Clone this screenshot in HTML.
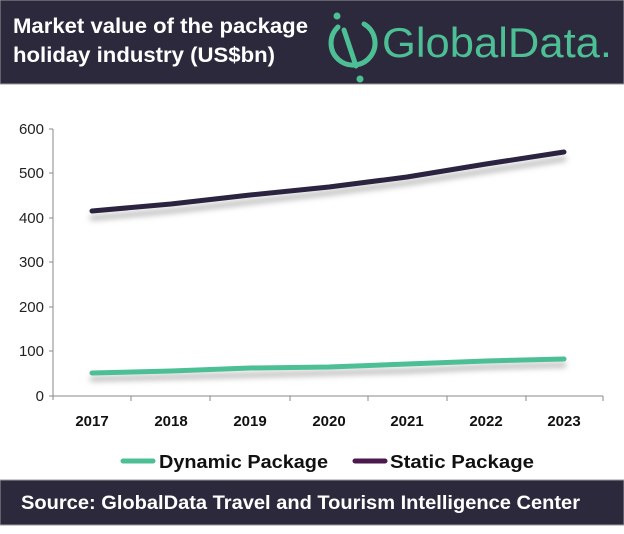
<!DOCTYPE html>
<html><head><meta charset="utf-8"><style>
body{margin:0;width:624px;height:529px;background:#fff;overflow:hidden;font-family:"Liberation Sans",sans-serif}
</style></head><body>
<svg width="624" height="529" xmlns="http://www.w3.org/2000/svg" font-family="Liberation Sans, sans-serif">
<defs><filter id="sh" x="-10%" y="-50%" width="120%" height="300%"><feGaussianBlur stdDeviation="3"/></filter></defs>
<rect x="0" y="0" width="624" height="84" fill="#2d293d" stroke="#999" stroke-width="1"/>
<text x="13" y="33" fill="#fff" font-size="21" font-weight="bold" textLength="295" lengthAdjust="spacingAndGlyphs">Market value of the package</text>
<text x="13" y="62" fill="#fff" font-size="21" font-weight="bold" textLength="262" lengthAdjust="spacingAndGlyphs">holiday industry (US$bn)</text>
<g stroke="#4dbf95" fill="none" stroke-width="5" stroke-linecap="round">
<path d="M338 27 A22 22 0 1 0 364 24"/>
<line x1="344" y1="30" x2="356" y2="66"/>
</g>
<circle cx="337" cy="16" r="3.5" fill="#4dbf95"/><circle cx="360" cy="79" r="3.5" fill="#4dbf95"/>
<text x="382" y="57" fill="#4dbf95" font-size="42" textLength="230" lengthAdjust="spacingAndGlyphs">GlobalData.</text>
<g font-size="15" fill="#222" text-anchor="end">
<text x="44" y="134">600</text><text x="44" y="178">500</text><text x="44" y="223">400</text>
<text x="44" y="267">300</text><text x="44" y="312">200</text><text x="44" y="356">100</text><text x="44" y="401">0</text>
</g>
<g stroke="#888" stroke-width="1">
<line x1="53" y1="129" x2="53" y2="400"/><line x1="53" y1="396" x2="603" y2="396"/>
<line x1="49" y1="129" x2="53" y2="129"/><line x1="49" y1="173" x2="53" y2="173"/><line x1="49" y1="218" x2="53" y2="218"/>
<line x1="49" y1="262" x2="53" y2="262"/><line x1="49" y1="307" x2="53" y2="307"/><line x1="49" y1="351" x2="53" y2="351"/><line x1="49" y1="396" x2="53" y2="396"/>
<line x1="131" y1="396" x2="131" y2="401"/><line x1="210" y1="396" x2="210" y2="401"/><line x1="290" y1="396" x2="290" y2="401"/>
<line x1="368" y1="396" x2="368" y2="401"/><line x1="447" y1="396" x2="447" y2="401"/><line x1="526" y1="396" x2="526" y2="401"/><line x1="603" y1="396" x2="603" y2="401"/>
</g>
<g font-size="15" font-weight="bold" fill="#111" text-anchor="middle">
<text x="92" y="426">2017</text><text x="171" y="426">2018</text><text x="250" y="426">2019</text><text x="329" y="426">2020</text>
<text x="407" y="426">2021</text><text x="486" y="426">2022</text><text x="564" y="426">2023</text>
</g>
<g fill="none" stroke-linecap="round" stroke-linejoin="round" stroke-width="5">
<polyline filter="url(#sh)" stroke="#bbb" points="92,218 171,211 250,202 329,193 407,183 486,171 564,159"/>
<polyline filter="url(#sh)" stroke="#bbb" points="92,379 171,377 250,375 329,373 407,371 486,367 564,365"/>
<polyline stroke="#2b2340" points="92,211 171,204 250,195 329,187 407,177 486,164 564,152"/>
<polyline stroke="#4dbf95" points="92,373 171,371 250,368 329,367 407,364 486,361 564,359"/>
</g>
<line x1="123" y1="461" x2="153" y2="461" stroke="#4dbf95" stroke-width="5" stroke-linecap="round"/>
<text x="159" y="468" font-size="18" font-weight="bold" fill="#111" textLength="169" lengthAdjust="spacingAndGlyphs">Dynamic Package</text>
<line x1="355" y1="461" x2="385" y2="461" stroke="#4a1a4f" stroke-width="5" stroke-linecap="round"/>
<text x="390" y="468" font-size="18" font-weight="bold" fill="#111" textLength="144" lengthAdjust="spacingAndGlyphs">Static Package</text>
<rect x="0" y="480" width="624" height="45" fill="#2d293d" stroke="#999" stroke-width="1"/>
<text x="21" y="509" font-size="19" font-weight="bold" fill="#fff" textLength="559" lengthAdjust="spacingAndGlyphs">Source:  GlobalData Travel and Tourism Intelligence Center</text>
</svg>
</body></html>
